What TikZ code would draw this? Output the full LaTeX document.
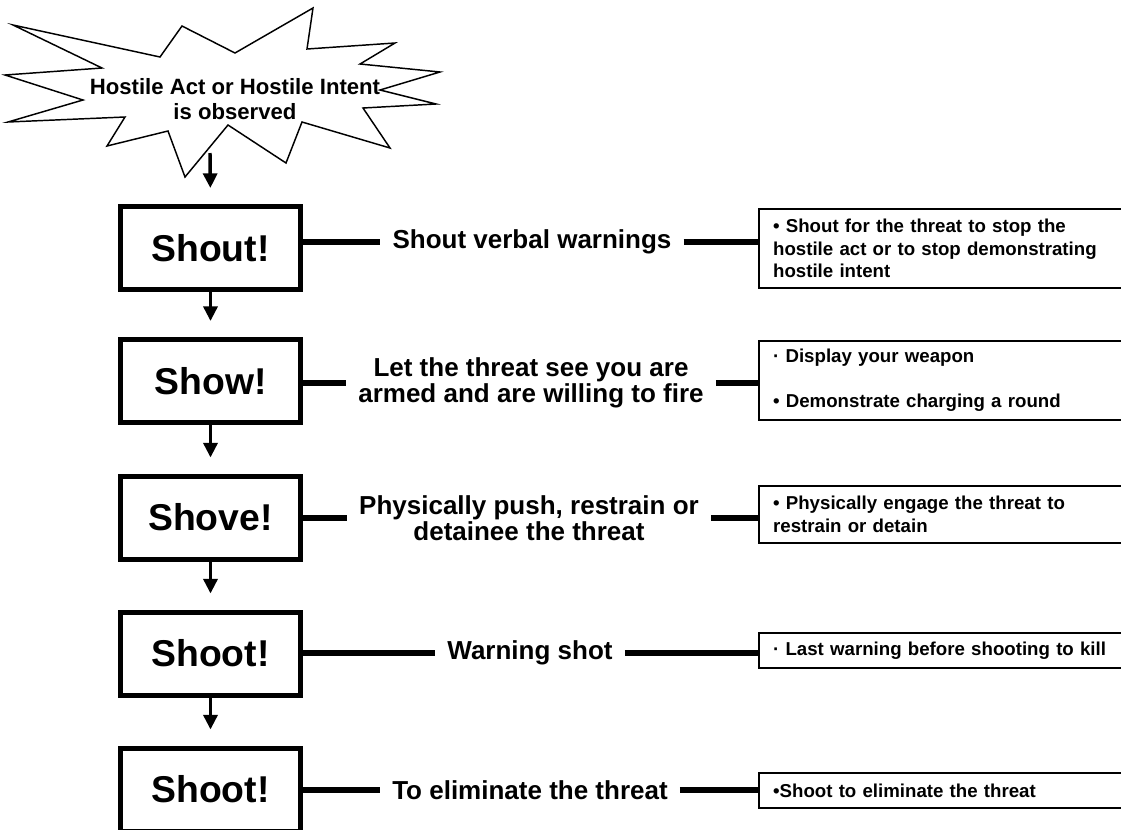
\documentclass[tikz,border=0pt]{standalone}
\usepackage{fontspec}
\setmainfont{Liberation Sans}
\usetikzlibrary{arrows.meta,calc}

\tikzset{
  stagebox/.style={draw, line width=3.75pt, minimum width=135pt, minimum height=62.25pt, inner sep=0pt, font=\fontsize{28}{30}\selectfont\bfseries},
  actiontext/.style={align=center, inner xsep=9pt, inner ysep=0pt, font=\fontsize{19.5}{19.5}\selectfont\bfseries},
  notebox/.style={draw, line width=1.7pt, anchor=west, text width=300pt, inner xsep=10.5pt, inner ysep=0pt, align=left, font=\fontsize{14}{17}\selectfont\bfseries},
  link/.style={line width=5pt},
  flow/.style={line width=2.6pt, -{Triangle[width=10.5pt,length=11pt]}, shorten >=12pt},
}

\begin{document}
\begin{tikzpicture}[x=0.75pt,y=0.75pt,yscale=-1,xscale=1]
\clip (0,0) rectangle (1121,829);

%Shape: Starburst
\draw [line width=1.1pt, fill=white] (13,25) -- (160,57) -- (182,26) -- (235,53) -- (313,8) -- (307,49) -- (395,43) -- (360,64) -- (440,72) -- (380,90) -- (436,104) -- (363,108) -- (390,148) -- (302,122) -- (286,163) -- (228,125) -- (185,177) -- (168,131) -- (107,146) -- (125,117) -- (8,122) -- (83,100) -- (5,75) -- (102,68) -- cycle ;
% Text Node
\node [align=center, inner sep=0pt, font=\fontsize{16.6}{18.75}\selectfont\bfseries] (alarm) at (235,99) {Hostile Act or Hostile Intent\\is observed};
\coordinate (alarm-foot) at (210,153);

%Stage boxes
\node [stagebox] (shout) at (210.5,248) {Shout!};
\node [stagebox] (show) at (210.5,381) {Show!};
\node [stagebox] (shove) at (210.5,517.5) {Shove!};
\node [stagebox] (shoot) at (210.5,653.5) {Shoot!};
\node [stagebox] (kill) at (210.5,789.5) {Shoot!};

%Action texts
\node [actiontext] (act1) at (532,242) {Shout verbal warnings};
\node [actiontext] (act2) at (531,383) {Let the threat see you are\\armed and are willing to fire};
\node [actiontext] (act3) at (529,518) {Physically push, restrain or\\detainee the threat};
\node [actiontext] (act4) at (530,653) {Warning shot};
\node [actiontext] (act5) at (530,790) {To eliminate the threat};

%Note boxes
\node [notebox, minimum height=59pt] (note1) at (758,248.5) {• Shout for the threat to stop the\\hostile act or to stop demonstrating\\hostile intent};
\node [notebox, minimum height=59pt] (note2) at (758,380.5) {· Display your weapon\\[17pt]• Demonstrate charging a round};
\node [notebox, minimum height=42.5pt] (note3) at (758,514.5) {• Physically engage the threat to\\restrain or detain};
\node [notebox, minimum height=26pt] (note4) at (758,650.5) {· Last warning before shooting to kill};
\node [notebox, minimum height=26pt] (note5) at (758,790.5) {•Shoot to eliminate the threat};

%Connectors
\draw [link] (act1.west -| shout.east) -- (act1.west) ;
\draw [link] (act1.east) -- (act1.east -| note1.west) ;
\draw [link] (act2.west -| show.east) -- (act2.west) ;
\draw [link] (act2.east) -- (act2.east -| note2.west) ;
\draw [link] (act3.west -| shove.east) -- (act3.west) ;
\draw [link] (act3.east) -- (act3.east -| note3.west) ;
\draw [link] (act4.west -| shoot.east) -- (act4.west) ;
\draw [link] (act4.east) -- (act4.east -| note4.west) ;
\draw [link] (act5.west -| kill.east) -- (act5.west) ;
\draw [link] (act5.east) -- (act5.east -| note5.west) ;

%Arrows
\draw [flow] (alarm-foot) -- (shout.north) ;
\draw [flow] (shout.south) -- (show.north) ;
\draw [flow] (show.south) -- (shove.north) ;
\draw [flow] (shove.south) -- (shoot.north) ;
\draw [flow] (shoot.south) -- (kill.north) ;

\end{tikzpicture}
\end{document}
